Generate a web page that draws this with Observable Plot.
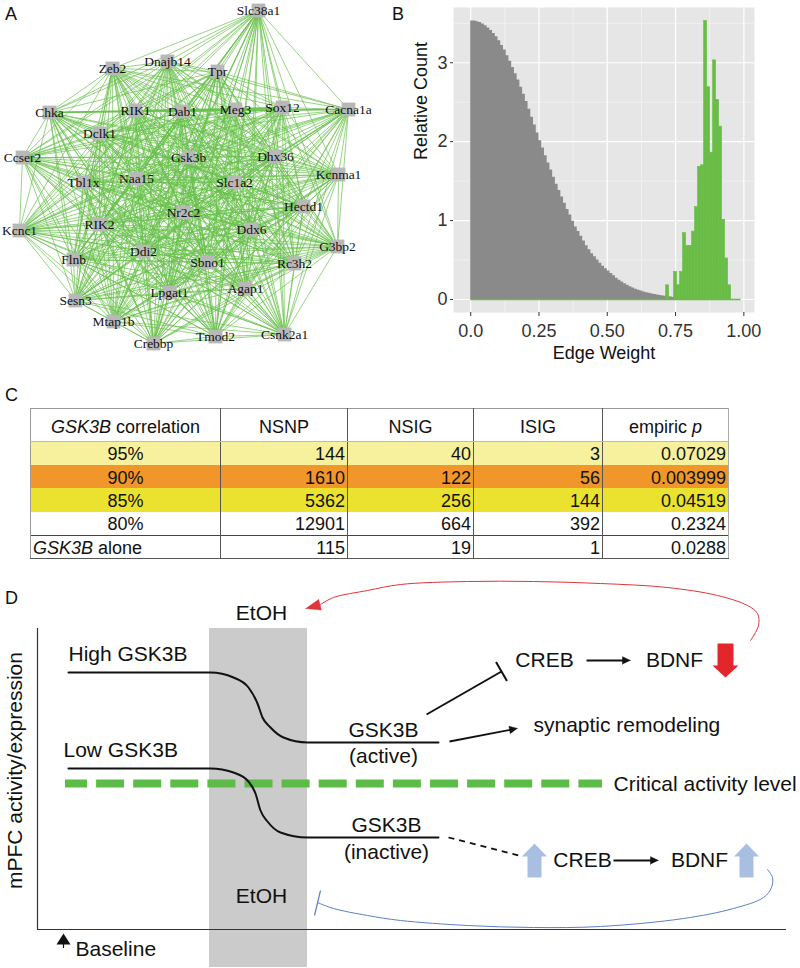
<!DOCTYPE html>
<html>
<head>
<meta charset="utf-8">
<script src="https://cdn.jsdelivr.net/npm/d3@7"></script>
<script src="https://cdn.jsdelivr.net/npm/@observablehq/plot@0.6"></script>
<style>
  body { margin: 0; background: #fff; }
  #fig { position: relative; width: 800px; height: 968px; overflow: hidden; font-family: "Liberation Sans", Arial, sans-serif; color: #111; }
  .letter { position: absolute; font-size: 18px; line-height: 18px; }
  #tbl { position: absolute; left: 30px; top: 408px; border-collapse: collapse; table-layout: fixed; width: 698px; font-size: 18px; font-family: "Liberation Sans", Arial, sans-serif; }
  #tbl td, #tbl th { padding: 2px 2px 0 2px; line-height: 18px; border-right: 1px solid #555; font-weight: normal; white-space: nowrap; overflow: hidden; }
  #tbl th { height: 28px; border-top: 1px solid #999; border-bottom: 1px solid #bbb; text-align: center; vertical-align: middle; padding-top: 4px; padding-bottom: 0; }
  #tbl td { height: 23.4px; text-align: right; box-sizing: border-box; }
  #tbl td.first, #tbl th.first { border-left: 1px solid #999; text-align: center; }
  #tbl td.last, #tbl th.last { border-right: 1px solid #aaa; }
  #tbl tr.sep td { border-top: 1px solid #444; }
  #tbl tr.end td { border-bottom: 1px solid #555; }
  #tbl td.alone { text-align: left; }
</style>
</head>
<body>
<div id="fig"></div>
<script>
// ---------------- Panel A: co-expression network ----------------
const geneNames = ["Slc38a1","Zeb2","Dnajb14","Tpr","Chka","RIK1","Dab1","Meg3","Sox12","Cacna1a",
  "Dclk1","Ccser2","Gsk3b","Dhx36","Kcnma1","Tbl1x","Naa15","Slc1a2","Hectd1","Nr2c2",
  "RIK2","Kcnc1","Ddx6","G3bp2","Ddi2","Flnb","Sbno1","Rc3h2","Lpgat1","Agap1",
  "Sesn3","Mtap1b","Tmod2","Csnk2a1","Crebbp"];
// layout coordinates of the network drawing
const geneLayoutX = [258,112,167,217,49,135,182,235,282,348, 99,22,188,275,338,83,136,234,303,183,
  99,19,251,337,143,73,207,294,169,245, 75,113,215,284,153];
const geneLayoutY = [10,68,61,71,112,110,111,109,107,109, 133,157,157,156,174,182,178,182,206,212,
  224,230,229,246,251,259,262,263,292,288, 300,321,336,334,343];

// ---------------- Panel B: edge weight histogram ----------------
const grayBinWidth = 0.01;
const grayCounts = [
  3.53,3.53,3.52,3.51,3.49,3.47,3.44,3.41,3.37,3.33,
  3.28,3.22,3.16,3.09,3.02,2.94,2.86,2.78,2.69,2.60,
  2.51,2.41,2.31,2.21,2.11,2.01,1.92,1.82,1.73,1.64,
  1.55,1.46,1.38,1.30,1.22,1.14,1.07,0.99,0.92,0.86,
  0.80,0.74,0.68,0.63,0.58,0.54,0.50,0.46,0.42,0.39,
  0.36,0.33,0.30,0.27,0.245,0.22,0.20,0.18,0.16,0.145,
  0.13,0.118,0.106,0.095,0.086,0.078,0.07,0.063,0.056,0.05,
  0.045,0.04,0.035,0.03,0.025,0.02,0.016,0.013,0.01,0.008,
  0.006,0.005,0.004,0.003,0.003,0.002,0.002,0.002,0.001,0.001,
  0.001,0.001,0.001,0,0,0,0,0,0,0];
const greenBinWidth = 0.011;
const greenCenters = [0.721,0.750,0.761,0.772,0.783,0.794,0.805,0.816,0.827,0.838,
  0.849,0.860,0.871,0.882,0.893,0.904,0.915,0.926,0.937,0.948];
const greenCounts = [0.18,0.35,0.18,0.35,0.84,0.68,0.68,0.86,1.17,1.68,
  1.70,3.53,2.69,1.86,3.03,2.53,2.19,1.01,0.52,0.18];
const greenSpan = [0, 0.99];
const xTicks = [0, 0.25, 0.5, 0.75, 1];
const xTickLabels = ["0.0", "0.25", "0.50", "0.75", "1.00"];
const xMinor = [0.125, 0.375, 0.625, 0.875];
const yTicks = [0, 1, 2, 3];
const yMinor = [0.5, 1.5, 2.5, 3.5];

// ---------------- Panel C: table ----------------
const tableHeader = ["<i>GSK3B</i> correlation", "NSNP", "NSIG", "ISIG", "empiric <i>p</i>"];
const corrLevels = ["95%", "90%", "85%", "80%", "<i>GSK3B</i> alone"];
const nsnp = [144, 1610, 5362, 12901, 115];
const nsig = [40, 122, 256, 664, 19];
const isig = [3, 56, 144, 392, 1];
const empiricP = ["0.07029", "0.003999", "0.04519", "0.2324", "0.0288"];
const rowFills = ["#f7f19d", "#f0962a", "#ebe230", "#ffffff", "#ffffff"];

// ---------------- Panel D: model diagram (time vs activity units) ----------------
const etohWindow = { start: 172, end: 270 };
const highTime  = [31, 173, 196, 211, 220, 225, 233, 246, 270, 401];
const highLevel = [257, 257, 252, 242, 226, 212, 202, 192, 187, 187];
const lowTime   = [31, 173, 196, 211, 218, 223, 230, 243, 270, 401];
const lowLevel  = [161, 161, 157, 148, 136, 119, 108, 97, 92, 92];
const criticalLevel = 146;
const criticalSpan = [28, 565];
const redArcT = [713,721,720,710,680,630,563,496,430,363,330,296,283];
const redArcV = [289,304,316,324,334,342,346,348,348,345,339,332,325];
const redArcTip = [268, 321];
const blueArcT = [730,735,734,726,696,646,563,496,430,363,330,296,280];
const blueArcV = [60,52,42,32,21,11,3,2,4,9,14,21,27];
const blueBar = [[283, 39], [277, 14]];
const tBar = { from: [389, 215], to: [464, 258] };
const blackArrows = [
  { from: [412, 188], to: [480, 201] },
  { from: [549, 269], to: [593, 269] },
  { from: [576, 69],  to: [621, 69] }];
const dashedLink = { from: [411, 92], to: [481, 74] };
const redDown = { t: 688, tail: 286, tip: 252 };
const blueUp = [{ t: 497, tail: 52, tip: 86 }, { t: 709, tail: 52, tip: 86 }];
const baselineMark = { t: 26, tip: -4, base: -15, stem: -19 };
const labelsMiddle = [
  { text: "EtOH", t: 224, v: 316 }, { text: "EtOH", t: 224, v: 33 },
  { text: "GSK3B", t: 346, v: 199 }, { text: "(active)", t: 346, v: 173 },
  { text: "GSK3B", t: 349, v: 104 }, { text: "(inactive)", t: 349, v: 77 },
  { text: "CREB", t: 507, v: 269 }, { text: "BDNF", t: 637, v: 269 },
  { text: "CREB", t: 545, v: 69 }, { text: "BDNF", t: 662, v: 69 }];
const labelsStart = [
  { text: "High GSK3B", t: 31, v: 275 }, { text: "Low GSK3B", t: 26, v: 179 },
  { text: "synaptic remodeling", t: 496, v: 204 },
  { text: "Critical activity level", t: 576, v: 145 },
  { text: "Baseline", t: 38, v: -20 }];

// =====================================================================
const fig = document.getElementById("fig");
function place(node, left, top) {
  node.style.position = "absolute";
  node.style.left = left + "px";
  node.style.top = top + "px";
  fig.appendChild(node);
}
function letter(txt, left, top) {
  const d = document.createElement("div");
  d.className = "letter";
  d.textContent = txt;
  place(d, left, top);
}
const sans = "Liberation Sans, Arial, sans-serif";

// ---------- A ----------
const nodes = geneNames.map((name, i) => ({ name, x: geneLayoutX[i], y: geneLayoutY[i] }));
const edges = [];
for (let i = 0; i < nodes.length; i++)
  for (let j = i + 1; j < nodes.length; j++) edges.push({ a: nodes[i], b: nodes[j] });

const plotA = Plot.plot({
  width: 400, height: 370, margin: 0,
  x: { domain: [0, 400], axis: null },
  y: { domain: [0, 370], reverse: true, axis: null },
  style: { background: "transparent", overflow: "visible" },
  marks: [
    Plot.link(edges, { x1: d => d.a.x, y1: d => d.a.y, x2: d => d.b.x, y2: d => d.b.y,
      stroke: "#66c04a", strokeOpacity: 0.72, strokeWidth: 0.95 }),
    Plot.dot(nodes, { x: "x", y: "y", symbol: "square", r: 7.8, fill: "#b8b8b8", stroke: "none" }),
    Plot.text(nodes, { x: "x", y: "y", text: "name", fontFamily: "Liberation Serif, Times New Roman, serif",
      fontSize: 13.5, fill: "#111" })
  ]
});
place(plotA, 0, 0);

// ---------- B ----------
const grayBins = grayCounts.map((v, i) => ({ x: i * grayBinWidth, v }));
grayBins.push({ x: grayCounts.length * grayBinWidth, v: 0 });
const greenBins = greenCenters.map((c, i) => ({ x1: c - greenBinWidth / 2, x2: c + greenBinWidth / 2, v: greenCounts[i] }));
const xLabelOf = new Map(xTicks.map((t, i) => [t, xTickLabels[i]]));

const plotB = Plot.plot({
  width: 400, height: 370, marginLeft: 53, marginRight: 46, marginTop: 7, marginBottom: 58,
  x: { domain: [-0.063, 1.039] },
  y: { domain: [-0.165, 3.70] },
  style: { background: "transparent", overflow: "visible", fontFamily: sans },
  marks: [
    Plot.frame({ fill: "#e6e6e6", stroke: "none" }),
    Plot.ruleX(xMinor, { stroke: "#f6f6f6", strokeWidth: 0.6 }),
    Plot.ruleY(yMinor, { stroke: "#f6f6f6", strokeWidth: 0.6 }),
    Plot.ruleX(xTicks, { stroke: "white", strokeWidth: 1.2 }),
    Plot.ruleY(yTicks, { stroke: "white", strokeWidth: 1.2 }),
    Plot.areaY(grayBins, { x: "x", y: "v", curve: "step-after", fill: "#8a8a8a" }),
    Plot.rect(greenBins, { x1: "x1", x2: "x2", y1: 0, y2: "v", fill: "#69bd46", stroke: "#69bd46", strokeWidth: 0.6 }),
    Plot.ruleY([0], { x1: greenSpan[0], x2: greenSpan[1], stroke: "#69bd46", strokeWidth: 1.6 }),
    Plot.axisX(xTicks, { tickFormat: d => xLabelOf.get(d), fontSize: 18, tickSize: 4, tickPadding: 8,
      color: "#333", label: null }),
    Plot.axisY(yTicks, { tickFormat: d => String(d), fontSize: 18, tickSize: 3, tickPadding: 3, color: "#333", label: null }),
    Plot.text(["Edge Weight"], { frameAnchor: "bottom", dy: 46, text: d => d, fontSize: 18, fill: "#111" }),
    Plot.text(["Relative Count"], { frameAnchor: "left", dx: -32, rotate: -90, text: d => d, fontSize: 18, fill: "#111" })
  ]
});
place(plotB, 400, 0);

// ---------- C ----------
const tbl = document.createElement("table");
tbl.id = "tbl";
const colW = [190, 127, 126, 129, 126];
const cg = document.createElement("colgroup");
colW.forEach(w => { const c = document.createElement("col"); c.style.width = w + "px"; cg.appendChild(c); });
tbl.appendChild(cg);
const hr = document.createElement("tr");
tableHeader.forEach((h, j) => {
  const th = document.createElement("th");
  th.innerHTML = h;
  if (j === 0) th.className = "first";
  if (j === tableHeader.length - 1) th.className = "last";
  hr.appendChild(th);
});
tbl.appendChild(hr);
corrLevels.forEach((lvl, i) => {
  const tr = document.createElement("tr");
  if (i === corrLevels.length - 1) tr.className = "sep end";
  tr.style.background = rowFills[i];
  [lvl, nsnp[i], nsig[i], isig[i], empiricP[i]].forEach((v, j) => {
    const td = document.createElement("td");
    td.innerHTML = v;
    const cls = [];
    if (j === 0) cls.push("first");
    if (j === 0 && i === corrLevels.length - 1) cls.push("alone");
    if (j === 4) cls.push("last");
    td.className = cls.join(" ");
    tr.appendChild(td);
  });
  tbl.appendChild(tr);
});
fig.appendChild(tbl);

// ---------- D ----------
function headPoly(from, to, len, hw, id) {
  const dx = to[0] - from[0], dy = to[1] - from[1], L = Math.hypot(dx, dy);
  const ux = dx / L, uy = dy / L;
  const bx = to[0] - ux * len, by = to[1] - uy * len;
  return [
    { id, t: to[0], v: to[1] },
    { id, t: bx - uy * hw, v: by + ux * hw },
    { id, t: bx + uy * hw, v: by - ux * hw }];
}
function shaftEnd(from, to, len) {
  const dx = to[0] - from[0], dy = to[1] - from[1], L = Math.hypot(dx, dy);
  return [to[0] - dx / L * (len - 1), to[1] - dy / L * (len - 1)];
}
function blockArrow(a, halfShaft, halfHead, headLen, id) {
  const dir = Math.sign(a.tip - a.tail), hb = a.tip - dir * headLen;
  return [
    [a.t - halfShaft, a.tail], [a.t + halfShaft, a.tail], [a.t + halfShaft, hb], [a.t + halfHead, hb],
    [a.t, a.tip], [a.t - halfHead, hb], [a.t - halfShaft, hb]].map(([t, v]) => ({ id, t, v }));
}

const highPts = highTime.map((t, i) => ({ t, v: highLevel[i] }));
const lowPts = lowTime.map((t, i) => ({ t, v: lowLevel[i] }));
const redPts = redArcT.map((t, i) => ({ t, v: redArcV[i] }));
const bluePts = blueArcT.map((t, i) => ({ t, v: blueArcV[i] }));
const redLast = [redArcT[redArcT.length - 1], redArcV[redArcV.length - 1]];
const redHead = headPoly(redLast, redArcTip, 15, 5.5, "r");
const blackLinks = blackArrows.map(a => ({ from: a.from, to: shaftEnd(a.from, a.to, 8) }));
const blackHeads = blackArrows.flatMap((a, i) => headPoly(a.from, a.to, 8, 3.8, "b" + i));
// inhibitory bar perpendicular to the GSK3B -> CREB link
const tdx = tBar.to[0] - tBar.from[0], tdy = tBar.to[1] - tBar.from[1], tL = Math.hypot(tdx, tdy);
const tBarEnds = { t1: tBar.to[0] - tdy / tL * 11, v1: tBar.to[1] + tdx / tL * 11,
                   t2: tBar.to[0] + tdy / tL * 11, v2: tBar.to[1] - tdx / tL * 11 };
const redBlock = blockArrow(redDown, 8, 13, 12, "red");
const blueBlocks = blueUp.flatMap((a, i) => blockArrow(a, 7, 12.5, 13, "blue" + i));
const baseTri = [
  { t: baselineMark.t, v: baselineMark.tip }, { t: baselineMark.t - 7, v: baselineMark.base },
  { t: baselineMark.t + 7, v: baselineMark.base }];

const font = { fontFamily: sans, fontSize: 21, fill: "#111" };
const plotD = Plot.plot({
  width: 800, height: 388, marginLeft: 37, marginRight: 14, marginTop: 48, marginBottom: 39,
  x: { domain: [0, 749], axis: null },
  y: { domain: [0, 301], axis: null },
  style: { background: "transparent", overflow: "visible", fontFamily: sans },
  marks: [
    Plot.rect([etohWindow], { x1: "start", x2: "end", y1: -38, y2: 301, fill: "#cbcbcb" }),
    Plot.ruleX([0], { y1: 0, y2: 301, stroke: "#333", strokeWidth: 1.2 }),
    Plot.ruleY([0], { x1: 0, x2: 749, stroke: "#333", strokeWidth: 1.2 }),
    Plot.ruleY([criticalLevel], { x1: criticalSpan[0], x2: criticalSpan[1], stroke: "#5dbb47", strokeWidth: 8,
      strokeDasharray: "28,9.1", strokeDashoffset: 6 }),
    Plot.line(highPts, { x: "t", y: "v", curve: "monotone-x", stroke: "#111", strokeWidth: 2 }),
    Plot.line(lowPts, { x: "t", y: "v", curve: "monotone-x", stroke: "#111", strokeWidth: 2 }),
    // red feedback arc
    Plot.line(redPts, { x: "t", y: "v", curve: "catmull-rom", stroke: "#e0353a", strokeWidth: 1 }),
    Plot.line(redHead, { x: "t", y: "v", z: "id", fill: "#e0353a", stroke: "#e0353a", strokeWidth: 0.5 }),
    // blue feedback arc with inhibition bar
    Plot.line(bluePts, { x: "t", y: "v", curve: "catmull-rom", stroke: "#5a80c4", strokeWidth: 1 }),
    Plot.link([blueBar], { x1: d => d[0][0], y1: d => d[0][1], x2: d => d[1][0], y2: d => d[1][1], stroke: "#5a80c4", strokeWidth: 1.2 }),
    // black arrows
    Plot.link([tBar], { x1: d => d.from[0], y1: d => d.from[1], x2: d => d.to[0], y2: d => d.to[1], stroke: "#111", strokeWidth: 2 }),
    Plot.link([tBarEnds], { x1: "t1", y1: "v1", x2: "t2", y2: "v2", stroke: "#111", strokeWidth: 2 }),
    Plot.link(blackLinks, { x1: d => d.from[0], y1: d => d.from[1], x2: d => d.to[0], y2: d => d.to[1], stroke: "#111", strokeWidth: 1.8 }),
    Plot.line(blackHeads, { x: "t", y: "v", z: "id", fill: "#111", stroke: "#111", strokeWidth: 0.5 }),
    Plot.link([dashedLink], { x1: d => d.from[0], y1: d => d.from[1], x2: d => d.to[0], y2: d => d.to[1],
      stroke: "#111", strokeWidth: 1.8, strokeDasharray: "6,5" }),
    // block arrows
    Plot.line(redBlock, { x: "t", y: "v", z: "id", fill: "#e3262b", stroke: "none" }),
    Plot.line(blueBlocks, { x: "t", y: "v", z: "id", fill: "#a9bfe2", stroke: "none" }),
    // baseline marker
    Plot.line(baseTri, { x: "t", y: "v", fill: "#111", stroke: "none" }),
    Plot.ruleX([baselineMark.t], { y1: baselineMark.base, y2: baselineMark.stem, stroke: "#111", strokeWidth: 1.2 }),
    // labels
    Plot.text(labelsMiddle, { x: "t", y: "v", text: "text", ...font }),
    Plot.text(labelsStart, { x: "t", y: "v", text: "text", textAnchor: "start", ...font }),
    Plot.text(["mPFC activity/expression"], { x: -22, y: 159, rotate: -90, text: d => d, ...font })
  ]
});
place(plotD, 0, 580);

letter("A", 5, 5);
letter("B", 392, 5);
letter("C", 5, 386);
letter("D", 5, 589);
</script>
</body>
</html>
